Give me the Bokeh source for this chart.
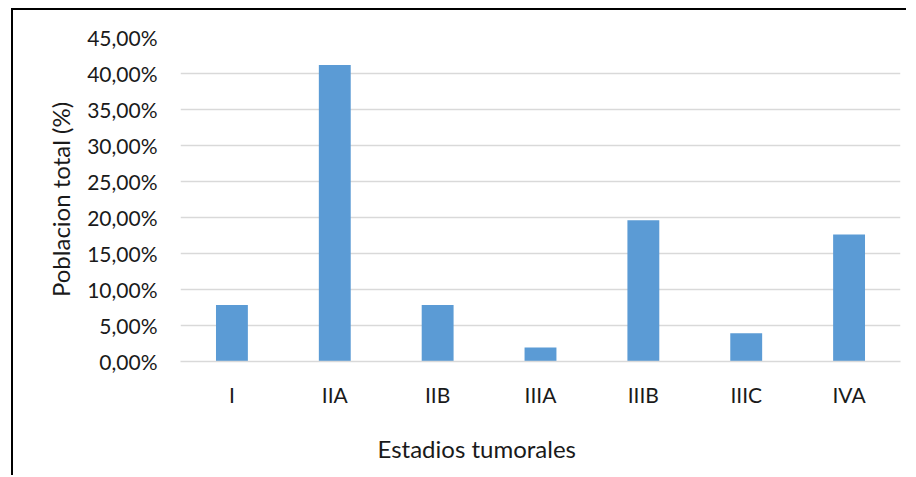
from bokeh.plotting import figure
from bokeh.models import (ColumnDataSource, FixedTicker, CustomJSTickFormatter,
                          Title, Range1d)
from bokeh.embed import file_html
from bokeh.resources import INLINE

categories = ["I", "IIA", "IIB", "IIIA", "IIIB", "IIIC", "IVA"]
values = [7.84, 41.18, 7.84, 1.96, 19.61, 3.92, 17.65]
y_ticks = [0, 5, 10, 15, 20, 25, 30, 35, 40, 45]

FONT = "Lato"
TXT = "#1a1a1a"

src = ColumnDataSource(dict(cat=categories, val=values))

p = figure(x_range=categories, y_range=Range1d(0, 45),
           width=895, height=467, output_backend="svg",
           toolbar_location=None, min_border_left=167, min_border_right=8,
           min_border_top=27, min_border_bottom=116)
p.styles = {"border-top": "2px solid #000", "border-left": "2px solid #000",
            "margin-left": "11px", "margin-top": "8px"}

p.vbar(x="cat", top="val", width=0.31, source=src,
       fill_color="#5b9bd5", line_color=None)

p.outline_line_color = None
p.background_fill_color = "white"
p.border_fill_color = "white"

p.xgrid.grid_line_color = None
p.ygrid.grid_line_color = "#d9d9d9"
p.ygrid.grid_line_width = 1.5

p.yaxis.ticker = FixedTicker(ticks=y_ticks)
p.yaxis.formatter = CustomJSTickFormatter(
    code="return tick.toFixed(2).replace('.', ',') + '%';")
p.yaxis.axis_line_color = None
p.yaxis.major_tick_line_color = None
p.yaxis.minor_tick_line_color = None
p.yaxis.major_tick_out = 0
p.yaxis.minor_tick_out = 0
p.yaxis.major_label_standoff = 23
p.yaxis.axis_label = "Poblacion total (%)"
p.yaxis.axis_label_standoff = 9

p.xaxis.axis_line_color = "#d9d9d9"
p.xaxis.axis_line_width = 1.5
p.xaxis.major_tick_line_color = None
p.xaxis.minor_tick_line_color = None
p.xaxis.major_tick_out = 0
p.xaxis.minor_tick_out = 0
p.xaxis.major_label_standoff = 20

for ax in (p.xaxis[0], p.yaxis[0]):
    ax.major_label_text_font = FONT
    ax.major_label_text_font_size = "21px"
    ax.major_label_text_color = TXT
    ax.axis_label_text_font = FONT
    ax.axis_label_text_font_size = "24px"
    ax.axis_label_text_font_style = "normal"
    ax.axis_label_text_color = TXT

# blank axis label used only as vertical spacing before the title
p.xaxis.axis_label = " "
p.xaxis.axis_label_standoff = 1
p.xaxis.axis_label_text_font_size = "15px"

xt = Title(text="Estadios tumorales", align="left", offset=197,
           text_font=FONT, text_font_size="24px", text_font_style="normal",
           text_color=TXT, standoff=0)
p.add_layout(xt, "below")

open("out.html", "w").write(file_html(p, INLINE))
